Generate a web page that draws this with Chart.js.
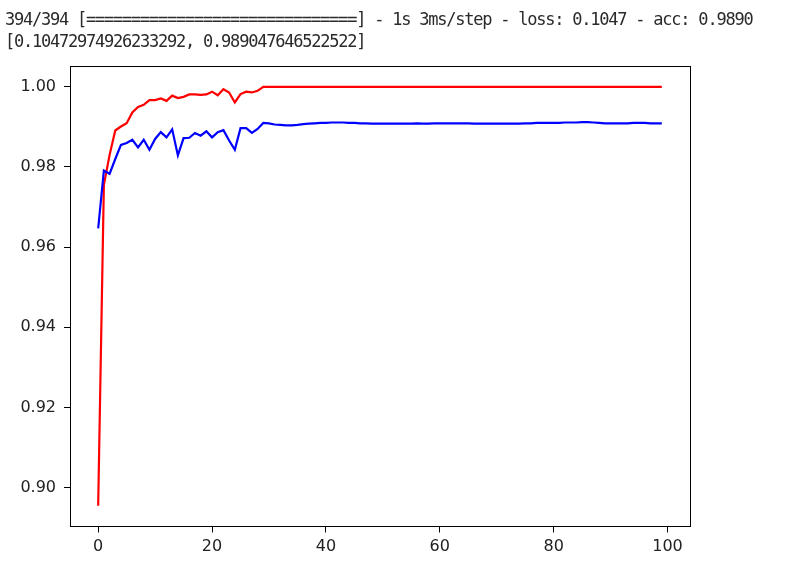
<!DOCTYPE html>
<html>
<head>
<meta charset="utf-8">
<script src="https://cdn.jsdelivr.net/npm/chart.js@4"></script>
<style>
  body { margin: 0; background: #fff; }
  #wrap { position: relative; width: 798px; height: 570px; }
  #chart { position: absolute; left: 0; top: 0; }
  #log {
    position: absolute; left: 5px; top: 8px;
    font-family: "DejaVu Sans Mono", monospace; font-size: 17px;
    letter-spacing: -1.23px; line-height: 22px; color: #2a2a2a; white-space: pre;
  }
</style>
</head>
<body>
<div id="wrap">
  <canvas id="chart" width="798" height="570"></canvas>
  <div id="log">394/394 [==============================] - 1s 3ms/step - loss: 0.1047 - acc: 0.9890
[0.10472974926233292, 0.989047646522522]</div>
</div>
<script>
// Training accuracy (red)
const acc = [
  0.8955, 0.9755, 0.9830, 0.9891, 0.9901, 0.9909, 0.9936, 0.9950, 0.9955, 0.9967,
  0.9967, 0.9971, 0.9965, 0.9978, 0.9972, 0.9975, 0.9981, 0.9981, 0.9980, 0.9981,
  0.9988, 0.9979, 0.9994, 0.9986, 0.9961, 0.9982, 0.9988, 0.9986, 0.9990, 1.0000,
  1.0000, 1.0000, 1.0000, 1.0000, 1.0000, 1.0000, 1.0000, 1.0000, 1.0000, 1.0000,
  1.0000, 1.0000, 1.0000, 1.0000, 1.0000, 1.0000, 1.0000, 1.0000, 1.0000, 1.0000,
  1.0000, 1.0000, 1.0000, 1.0000, 1.0000, 1.0000, 1.0000, 1.0000, 1.0000, 1.0000,
  1.0000, 1.0000, 1.0000, 1.0000, 1.0000, 1.0000, 1.0000, 1.0000, 1.0000, 1.0000,
  1.0000, 1.0000, 1.0000, 1.0000, 1.0000, 1.0000, 1.0000, 1.0000, 1.0000, 1.0000,
  1.0000, 1.0000, 1.0000, 1.0000, 1.0000, 1.0000, 1.0000, 1.0000, 1.0000, 1.0000,
  1.0000, 1.0000, 1.0000, 1.0000, 1.0000, 1.0000, 1.0000, 1.0000, 1.0000, 1.0000
];

// Validation accuracy (blue)
const valAcc = [
  0.9647, 0.9791, 0.9783, 0.9820, 0.9855, 0.9860, 0.9868, 0.9849, 0.9868, 0.9843,
  0.9870, 0.9887, 0.9874, 0.9894, 0.9829, 0.9872, 0.9873, 0.9885, 0.9878, 0.9889,
  0.9874, 0.9887, 0.9892, 0.9866, 0.9843, 0.9897, 0.9897, 0.9885, 0.9895, 0.9910,
  0.9909, 0.9906, 0.9905, 0.9904, 0.9904, 0.9905, 0.9907, 0.9908, 0.9909, 0.9910,
  0.9910, 0.9911, 0.9911, 0.9911, 0.9910, 0.9910, 0.9909, 0.9909, 0.9908, 0.9908,
  0.9908, 0.9908, 0.9908, 0.9908, 0.9908, 0.9908, 0.9909, 0.9908, 0.9908, 0.9909,
  0.9909, 0.9909, 0.9909, 0.9909, 0.9909, 0.9909, 0.9908, 0.9908, 0.9908, 0.9908,
  0.9908, 0.9908, 0.9908, 0.9908, 0.9908, 0.9909, 0.9909, 0.9910, 0.9910, 0.9910,
  0.9910, 0.9910, 0.9911, 0.9911, 0.9911, 0.9912, 0.9912, 0.9911, 0.9910, 0.9909,
  0.9909, 0.9909, 0.9909, 0.9909, 0.9910, 0.9910, 0.9910, 0.9909, 0.9909, 0.9909
];

const xTicks = [0, 20, 40, 60, 80, 100];
const yTicks = [0.90, 0.92, 0.94, 0.96, 0.98, 1.00];

const epochs = acc.map((_, i) => i);
const toPoints = arr => arr.map((v, i) => ({ x: epochs[i], y: v }));

// matplotlib-style box around the plot area
const frame = {
    id: 'frame',
    afterDraw(chart) {
        const { ctx, chartArea: a } = chart;
        ctx.save();
        ctx.strokeStyle = '#000';
        ctx.lineWidth = 1;
        ctx.strokeRect(Math.floor(a.left) + 0.5, Math.floor(a.top) + 0.5,
            Math.round(a.right - a.left), Math.floor(a.bottom) - Math.floor(a.top));
        ctx.restore();
    }
};

const tickFont = { family: 'DejaVu Sans', size: 16 };

new Chart(document.getElementById('chart'), {
    type: 'line',
    data: {
        datasets: [
            { data: toPoints(valAcc), borderColor: '#0000ff', borderWidth: 2.2, pointRadius: 0, tension: 0, order: 0 },
            { data: toPoints(acc), borderColor: '#ff0000', borderWidth: 2.2, pointRadius: 0, tension: 0, order: 1 }
        ]
    },
    options: {
        responsive: false,
        animation: false,
        layout: { padding: { top: 66, right: 108, left: 0, bottom: 0 } },
        plugins: { legend: { display: false }, tooltip: { enabled: false } },
        scales: {
            x: {
                type: 'linear',
                min: -4.95,
                max: 103.95,
                afterBuildTicks: s => { s.ticks = xTicks.map(v => ({ value: v })); },
                afterFit: s => { s.height = 43.5; },
                border: { display: false },
                grid: { drawOnChartArea: false, tickLength: 6, tickColor: '#000' },
                ticks: { font: tickFont, color: '#222', padding: 5, maxRotation: 0, callback: v => String(v) }
            },
            y: {
                min: 0.8903,
                max: 1.0052,
                afterBuildTicks: s => { s.ticks = yTicks.map(v => ({ value: v })); },
                afterFit: s => { s.width = 70; },
                border: { display: false },
                grid: { drawOnChartArea: false, tickLength: 6, tickColor: '#000' },
                ticks: { font: tickFont, color: '#222', padding: 8, callback: v => v.toFixed(2) }
            }
        }
    },
    plugins: [frame]
});
</script>
</body>
</html>
